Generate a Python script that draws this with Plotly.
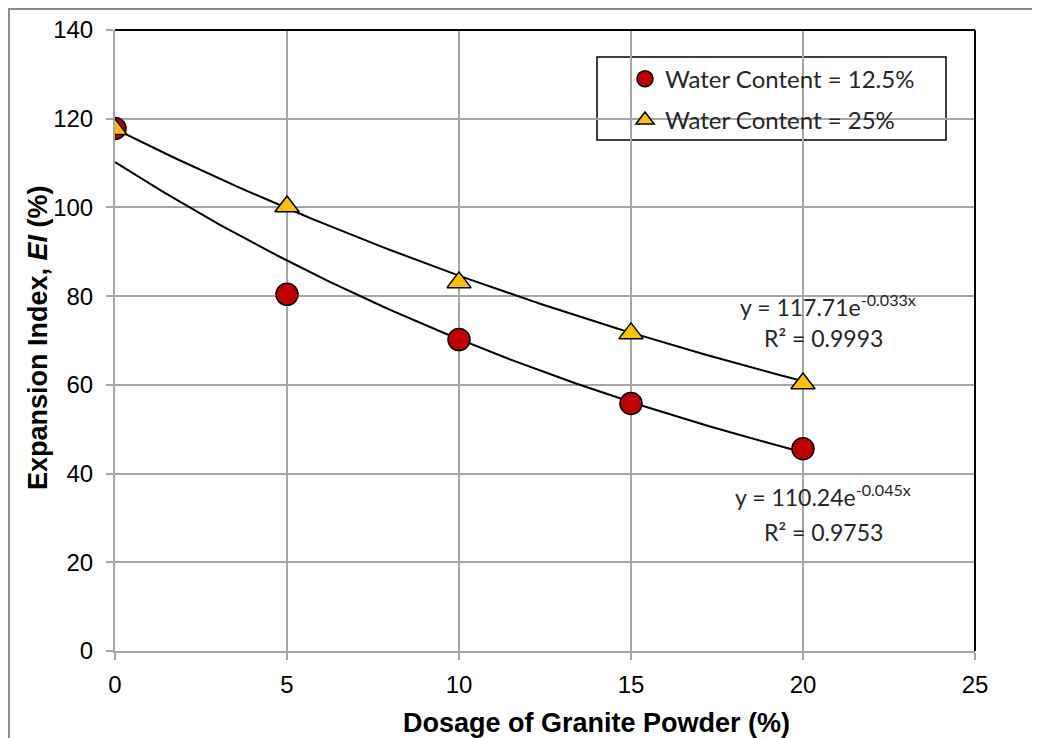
import numpy as np
import plotly.graph_objects as go

# ---- data ----
dosage = [0, 5, 10, 15, 20]
ei_wc125 = [117.8, 80.4, 70.2, 55.8, 45.6]
ei_wc25 = [117.6, 100.2, 83.1, 71.6, 60.3]
series_names = ["Water Content = 12.5%", "Water Content = 25%"]

# exponential trendlines as printed on the chart: y = a * exp(b x)
fit_wc125 = (110.24, -0.045)
fit_wc25 = (117.71, -0.033)
eq_wc125 = ["y = 110.24e<sup>-0.045x</sup>", "R² = 0.9753"]
eq_wc25 = ["y = 117.71e<sup>-0.033x</sup>", "R² = 0.9993"]

x_ticks = [0, 5, 10, 15, 20, 25]
y_ticks = [0, 20, 40, 60, 80, 100, 120, 140]
x_title = "<b>Dosage of Granite Powder (%)</b>"
y_title = "<b>Expansion Index, <i>EI</i> (%)</b>"

# page offset of the plot (body margin) compensation
L, T = 107, 22
PW, PH = 860, 621

fig = go.Figure()

xf = np.linspace(min(dosage), max(dosage), 101)
for (a, b) in (fit_wc125, fit_wc25):
    fig.add_trace(go.Scatter(x=xf, y=a * np.exp(b * xf), mode="lines",
                             line=dict(color="black", width=2),
                             showlegend=False, hoverinfo="skip"))

fig.add_trace(go.Scatter(x=dosage, y=ei_wc125, mode="markers", name=series_names[0],
                         legendgroup="a",
                         marker=dict(symbol="circle", size=22, color="#C00000",
                                     line=dict(color="black", width=1.5))))
fig.add_trace(go.Scatter(x=dosage, y=ei_wc25, mode="markers", name=series_names[1],
                         legendgroup="b",
                         marker=dict(symbol="triangle-up", size=21, color="#FFC000",
                                     line=dict(color="black", width=1.5))))

eqfont = dict(family="Lato, Open Sans, sans-serif", size=23, color="#262626")
for (txt, x, y) in ((eq_wc25[0], 20.73, 77.8), (eq_wc25[1], 20.6, 70.6),
                    (eq_wc125[0], 20.58, 35.0), (eq_wc125[1], 20.6, 26.8)):
    fig.add_annotation(x=x, y=y, text=txt, showarrow=False, font=eqfont,
                       xanchor="center", yanchor="middle")

titlefont = dict(family="Liberation Sans, Arial, sans-serif", size=27, color="black")
# axis titles (placed as in the reference)
fig.add_annotation(xref="paper", yref="paper", x=(596 - 115) / PW, y=(651 - 723) / PH,
                   text=x_title, showarrow=False, font=titlefont,
                   xanchor="center", yanchor="middle")
fig.add_annotation(xref="paper", yref="paper", x=(38 - 115) / PW, y=(651 - 338) / PH,
                   text=y_title, showarrow=False, font=titlefont, textangle=-90,
                   xanchor="center", yanchor="middle")

# legend box
fig.add_shape(type="rect", xref="x", yref="y",
              x0=(597 - 115) / 860 * 25, x1=(946 - 115) / 860 * 25,
              y0=(651 - 140) / 621 * 140, y1=(651 - 57) / 621 * 140,
              line=dict(color="black", width=1.5), fillcolor="white", layer="below")

# outer chart border
fig.add_shape(type="rect", xref="paper", yref="paper",
              x0=(1 - L) / PW, x1=1.0 + 80 / PW, y0=-120 / PH, y1=1.0 + (T - 1) / PH,
              line=dict(color="#8c8c8c", width=2))

axfont = dict(family="Liberation Sans, Arial, sans-serif", size=24, color="black")
fig.update_layout(
    width=1040, height=738,
    margin=dict(l=L, r=1040 - L - PW, t=T, b=738 - T - PH),
    paper_bgcolor="white", plot_bgcolor="white",
    showlegend=True,
    legend=dict(x=0.593, y=0.957, xanchor="left", yanchor="top",
                bgcolor="rgba(0,0,0,0)", borderwidth=0,
                font=dict(family="Lato, Open Sans, sans-serif", size=24, color="#262626"),
                tracegroupgap=7, itemwidth=30),
    xaxis=dict(range=[0, 25], tickvals=x_ticks, tickfont=axfont,
               showgrid=True, gridcolor="#A6A6A6", gridwidth=2,
               showline=True, linecolor="#A6A6A6", linewidth=2, mirror=False,
               ticks="outside", ticklen=7, tickcolor="#A6A6A6", tickwidth=2,
               ticklabelstandoff=4, zeroline=False, automargin=False),
    yaxis=dict(range=[0, 140], tickvals=y_ticks, tickfont=axfont,
               showgrid=True, gridcolor="#A6A6A6", gridwidth=2,
               showline=True, linecolor="#A6A6A6", linewidth=2,
               ticks="outside", ticklen=7, tickcolor="#A6A6A6", tickwidth=2,
               ticklabelstandoff=8, zeroline=False, automargin=False),
)

# black top and right plot-area border
fig.add_shape(type="line", xref="paper", yref="paper", x0=0, x1=1, y0=1, y1=1,
              line=dict(color="black", width=2))
fig.add_shape(type="line", xref="paper", yref="paper", x0=1, x1=1, y0=0, y1=1,
              line=dict(color="black", width=2))

fig.write_html("out.html")
